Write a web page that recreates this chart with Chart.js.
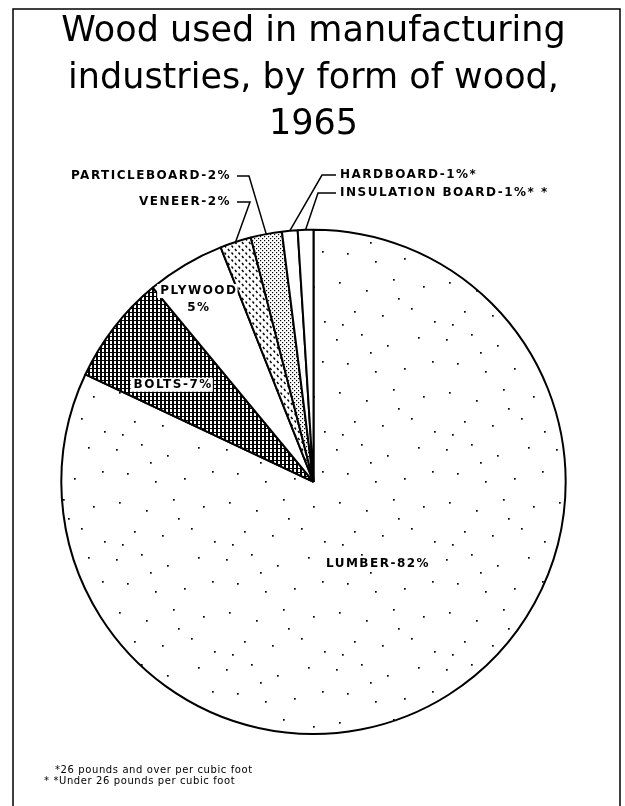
<!DOCTYPE html>
<html>
<head>
<meta charset="utf-8">
<script src="https://cdn.jsdelivr.net/npm/chart.js@4.4.1/dist/chart.umd.min.js"></script>
<style>
  html, body { margin: 0; padding: 0; background: #fff; }
  canvas { display: block; }
</style>
</head>
<body>
<canvas id="woodChart" width="625" height="806"></canvas>
<script>
// Wood used in manufacturing industries, 1965 (percent, by form of wood)
const categories = ['LUMBER', 'BOLTS', 'PLYWOOD', 'VENEER', 'PARTICLEBOARD', 'HARDBOARD', 'INSULATION BOARD'];
const shares = [82, 7, 5, 2, 2, 1, 1];
const footnoteMarks = ['', '', '', '', '', '*', '* *'];
const titleLines = ['Wood used in manufacturing', 'industries, by form of wood,', '1965'];
const footnotes = ['*26 pounds and over per cubic foot', '* *Under 26 pounds per cubic foot'];

// small repeating tiles used as fills (old print style shading)
function makePattern(w, h, paint) {
    const tile = document.createElement('canvas');
    tile.width = w;
    tile.height = h;
    const t = tile.getContext('2d');
    t.fillStyle = '#fff';
    t.fillRect(0, 0, w, h);
    t.fillStyle = '#000';
    t.strokeStyle = '#000';
    paint(t);
    return t.createPattern(tile, 'repeat');
}

// sparse, uneven stipple for lumber
const stipple = makePattern(110, 110, t => {
    [[6, 9], [31, 4], [57, 15], [88, 7], [102, 31], [74, 38], [45, 41], [17, 33],
     [9, 62], [36, 70], [63, 59], [93, 66], [81, 88], [52, 95], [24, 91], [104, 101],
     [68, 78], [40, 22], [12, 104]].forEach(([x, y]) => t.fillRect(x, y, 1.7, 1.7));
});
const crossHatch = makePattern(4, 4, t => {
    t.fillRect(0, 0, 2, 4);
    t.fillRect(0, 0, 4, 1);
});
const dashes = makePattern(7, 7, t => {
    t.lineWidth = 1.4;
    t.beginPath();
    t.moveTo(0.5, 0.5); t.lineTo(2, 2.5);
    t.moveTo(4, 4); t.lineTo(5.5, 6);
    t.stroke();
});
const fineDots = makePattern(4, 4, t => {
    t.fillRect(0, 0, 1.2, 1.2);
    t.fillRect(2, 2, 1.2, 1.2);
});

const fills = [stipple, crossHatch, '#fff', dashes, fineDots, '#fff', '#fff'];

// where each label goes: inside ones are polar offsets from the slice middle,
// outside ones hang on a leader line
const insideLayout = {
    LUMBER: { r: 0.41, turn: -5.5 },
    BOLTS: { r: 0.68, turn: -3.3 },
    PLYWOOD: { r: 0.856, turn: -1.8, twoLines: true }
};
const leaderLayout = {
    VENEER: { elbow: [250, 202], end: [237, 202], align: 'right' },
    PARTICLEBOARD: { elbow: [249, 176], end: [237, 176], align: 'right' },
    HARDBOARD: { elbow: [322, 175], end: [336, 175], align: 'left' },
    'INSULATION BOARD': { elbow: [318, 193], end: [336, 193], align: 'left' }
};

const labelFont = 'bold 12px "DejaVu Sans", sans-serif';

const sliceLabels = {
    id: 'sliceLabels',
    afterDatasetsDraw(chart) {
        const ctx = chart.ctx;
        const arcs = chart.getDatasetMeta(0).data;
        ctx.save();
        ctx.font = labelFont;
        ctx.letterSpacing = '1.5px';
        ctx.fillStyle = '#000';
        ctx.strokeStyle = '#000';
        ctx.textBaseline = 'middle';

        arcs.forEach((arc, i) => {
            const name = categories[i];
            const text = name + '-' + shares[i] + '%' + footnoteMarks[i];
            const { x, y, startAngle, endAngle, outerRadius } = arc.getProps(['x', 'y', 'startAngle', 'endAngle', 'outerRadius'], true);
            const mid = (startAngle + endAngle) / 2;

            if (insideLayout[name]) {
                const lay = insideLayout[name];
                const a = mid + lay.turn * Math.PI / 180;
                const cx = x + Math.cos(a) * outerRadius * lay.r;
                const cy = y + Math.sin(a) * outerRadius * lay.r;
                const lines = lay.twoLines ? [name, shares[i] + '%'] : [text];
                ctx.textAlign = 'center';
                lines.forEach((ln, k) => {
                    const ly = cy + (k - (lines.length - 1) / 2) * 17;
                    const w = ctx.measureText(ln).width;
                    ctx.fillStyle = '#fff';
                    ctx.fillRect(cx - w / 2 - 2, ly - 7, w + 3, 14);
                    ctx.fillStyle = '#000';
                    ctx.fillText(ln, cx + 1, ly);
                });
            } else if (leaderLayout[name]) {
                const lay = leaderLayout[name];
                const px = x + Math.cos(mid) * outerRadius;
                const py = y + Math.sin(mid) * outerRadius;
                ctx.lineWidth = 1.5;
                ctx.beginPath();
                ctx.moveTo(px, py);
                ctx.lineTo(lay.elbow[0], lay.elbow[1]);
                ctx.lineTo(lay.end[0], lay.end[1]);
                ctx.stroke();
                ctx.textAlign = lay.align;
                const tx = lay.align === 'right' ? lay.end[0] - 6 : lay.end[0] + 4;
                ctx.fillText(text, tx, lay.end[1]);
            }
        });
        ctx.restore();
    },
    afterDraw(chart) {
        const ctx = chart.ctx;
        ctx.save();
        // frame round the figure
        ctx.strokeStyle = '#000';
        ctx.lineWidth = 1.5;
        ctx.beginPath();
        ctx.moveTo(13, 810);
        ctx.lineTo(13, 9);
        ctx.lineTo(620, 9);
        ctx.lineTo(620, 810);
        ctx.stroke();
        // footnotes
        ctx.fillStyle = '#000';
        ctx.font = '10px "DejaVu Sans", sans-serif';
        ctx.letterSpacing = '0.6px';
        ctx.textBaseline = 'middle';
        ctx.textAlign = 'left';
        ctx.fillText(footnotes[0], 55, 770);
        ctx.fillText(footnotes[1], 44, 781);
        ctx.restore();
    }
};

new Chart(document.getElementById('woodChart'), {
    type: 'pie',
    data: {
        labels: categories,
        datasets: [{
            data: shares,
            backgroundColor: fills,
            borderColor: '#000',
            borderWidth: 2
        }]
    },
    options: {
        responsive: false,
        animation: false,
        events: [],
        rotation: 0,
        layout: {
            padding: { top: 0, bottom: 71, left: 2, right: 0 }
        },
        plugins: {
            legend: { display: false },
            tooltip: { enabled: false },
            title: {
                display: true,
                text: titleLines,
                color: '#000',
                font: { family: '"DejaVu Sans", sans-serif', size: 35, weight: 'normal', lineHeight: 1.33 },
                padding: { top: 9, bottom: 80 }
            }
        }
    },
    plugins: [sliceLabels]
});
</script>
</body>
</html>
